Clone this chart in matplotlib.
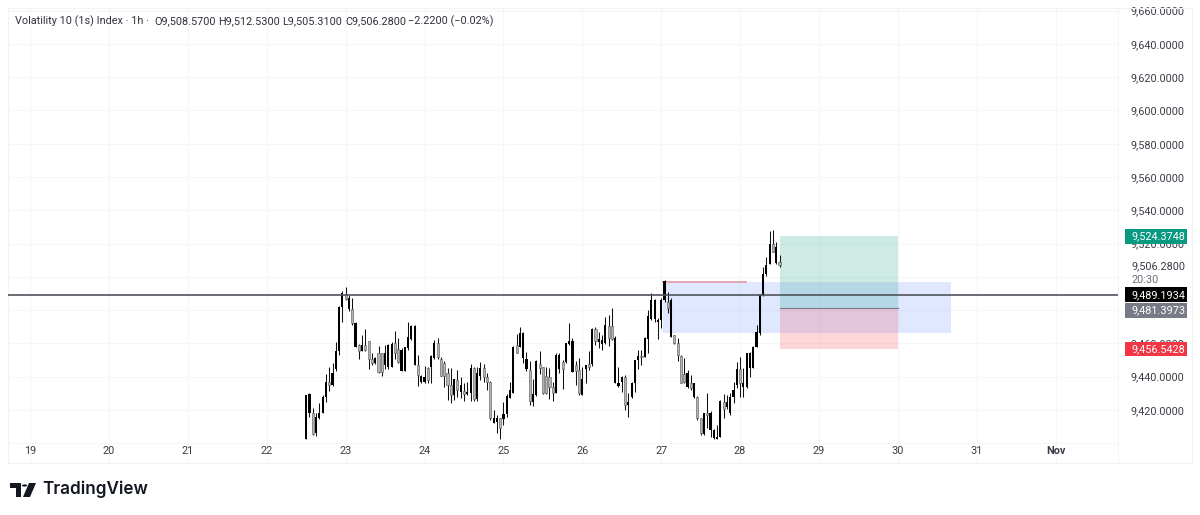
import numpy as np
import matplotlib
matplotlib.use('Agg')
import matplotlib.pyplot as plt
from matplotlib.patches import Rectangle, Polygon, Circle
from matplotlib.transforms import blended_transform_factory

plt.rcParams['font.family'] = ['Roboto', 'DejaVu Sans']

first_bar_day = 22.5
bars_per_day = 24
# candle prices below were read slightly low against the gridlines
read_offset = 0.6

opens = [9401.8,9417.4,9417.4,9405.4,9414.4,9417.4,9427.0,9436.2,9434.2,9443.8,
         9454.8,9481.0,9489.0,9479.8,9479.8,9457.4,9458.4,9455.0,9458.6,9461.0,
         9449.8,9447.4,9453.4,9453.4,9446.4,9445.0,9445.4,9459.8,9455.8,9443.0,
         9443.0,9456.4,9461.8,9446.4,9446.4,9436.4,9436.4,9444.4,9445.0,9450.4,
         9459.4,9449.8,9447.4,9441.4,9434.4,9428.4,9437.4,9430.4,9431.0,9429.0,
         9429.8,9444.4,9425.8,9439.8,9444.4,9439.0,9436.4,9411.8,9412.4,9414.4,
         9413.8,9417.0,9426.4,9429.8,9458.4,9457.4,9450.4,9443.8,9443.4,9424.4,
         9428.4,9447.0,9445.0,9439.8,9439.0,9433.0,9429.8,9443.8,9448.4,9448.4,
         9459.0,9442.4,9446.4,9443.4,9428.4,9443.8,9447.0,9447.0,9467.8,9460.4,
         9459.0,9459.8,9469.8,9469.8,9435.4,9433.8,9436.4,9439.4,9422.4,9427.0,
         9435.8,9449.4,9451.8,9451.4,9461.8,9473.8,9473.8,9472.4,9473.4,9485.4,
         9484.4,9463.4,9464.4,9459.4,9451.8,9441.0,9433.4,9435.4,9427.4,9427.4,
         9414.4,9405.0,9417.8,9407.4,9402.4,9402.0,9403.4,9424.4,9421.0,9417.4,
         9427.4,9434.4,9443.8,9433.0,9433.0,9444.4,9444.4,9457.4,9465.8,9488.6,
         9501.0,9507.4,9519.0,9507.8,9508.57]
highs = [9428.4,9429.4,9420.4,9417.4,9423.8,9428.4,9441.0,9445.0,9447.4,9460.4,
         9481.8,9491.0,9493.4,9488.4,9486.4,9472.4,9459.0,9464.4,9467.8,9461.0,
         9453.4,9451.0,9457.8,9453.8,9458.4,9459.0,9460.4,9467.0,9462.4,9456.4,
         9457.0,9472.2,9470.4,9470.4,9452.4,9440.4,9445.8,9445.0,9452.2,9461.4,
         9462.4,9451.0,9449.0,9444.4,9444.4,9437.8,9443.4,9439.0,9435.4,9436.4,
         9447.0,9445.4,9445.4,9448.4,9447.0,9441.4,9437.0,9419.4,9416.4,9414.4,
         9424.4,9429.0,9436.4,9457.8,9465.0,9469.4,9466.4,9454.4,9449.0,9437.8,
         9449.4,9455.0,9445.4,9445.0,9444.4,9436.4,9453.4,9453.8,9449.4,9459.8,
         9471.4,9462.4,9449.0,9450.4,9445.4,9446.4,9455.0,9468.4,9469.4,9466.4,
         9464.4,9475.4,9476.4,9480.4,9463.8,9445.4,9439.8,9440.4,9429.4,9436.4,
         9449.4,9455.4,9455.4,9463.4,9479.4,9489.8,9485.8,9474.4,9486.4,9497.4,
         9490.4,9486.4,9464.4,9462.4,9452.4,9450.4,9443.4,9440.4,9435.8,9427.8,
         9414.4,9417.8,9429.8,9419.0,9407.8,9410.4,9425.4,9429.0,9428.4,9429.8,
         9436.4,9448.4,9451.0,9444.4,9453.8,9454.4,9457.8,9470.4,9489.0,9505.4,
         9511.4,9527.0,9527.4,9520.4,9512.53]
lows = [9401.8,9415.0,9404.4,9403.8,9414.2,9417.4,9424.4,9431.0,9433.8,9443.0,
        9452.4,9472.4,9485.4,9479.0,9470.4,9457.0,9450.2,9454.6,9455.0,9443.8,
        9446.4,9447.0,9441.4,9439.8,9443.8,9444.2,9445.0,9449.8,9447.4,9442.8,
        9443.0,9455.4,9461.4,9446.4,9433.8,9435.4,9435.8,9435.8,9435.8,9449.8,
        9449.8,9439.8,9433.4,9425.4,9423.8,9425.4,9427.4,9426.4,9425.0,9428.4,
        9425.0,9425.0,9425.0,9437.4,9436.4,9431.4,9413.4,9411.4,9405.8,9401.8,
        9410.4,9415.4,9426.4,9429.4,9453.4,9457.0,9447.8,9443.0,9422.4,9421.8,
        9427.8,9441.0,9429.0,9429.0,9425.8,9425.0,9429.4,9441.4,9431.8,9447.8,
        9458.4,9442.4,9434.4,9428.4,9428.4,9435.8,9443.4,9445.8,9458.4,9456.4,
        9455.4,9459.0,9457.8,9461.4,9435.4,9433.0,9430.4,9419.4,9415.4,9426.4,
        9430.4,9443.8,9446.4,9451.0,9453.4,9473.4,9472.4,9461.8,9468.4,9484.4,
        9477.8,9463.4,9459.0,9449.0,9435.8,9435.8,9432.4,9431.4,9426.4,9413.4,
        9404.4,9404.4,9408.4,9403.4,9401.8,9401.8,9403.4,9414.4,9419.8,9416.4,
        9423.8,9432.4,9427.4,9427.4,9432.4,9439.4,9444.4,9457.4,9464.4,9487.8,
        9499.8,9507.0,9514.4,9507.4,9505.31]
closes = [9428.4,9429.0,9405.0,9415.4,9417.8,9427.0,9436.2,9434.4,9441.8,9454.8,
          9481.0,9489.8,9486.2,9486.4,9471.8,9471.8,9455.0,9458.6,9455.4,9449.8,
          9447.8,9450.6,9442.4,9442.4,9453.4,9458.4,9459.0,9453.8,9448.4,9455.4,
          9457.0,9463.4,9469.8,9469.8,9440.4,9439.8,9439.4,9437.4,9451.8,9459.8,
          9451.0,9439.8,9439.8,9434.4,9428.4,9437.8,9431.4,9434.4,9429.0,9430.2,
          9444.4,9425.8,9441.4,9444.4,9439.0,9436.4,9414.4,9414.4,9414.4,9408.4,
          9417.0,9427.8,9431.4,9457.0,9453.8,9465.8,9465.4,9449.8,9425.0,9429.0,
          9449.0,9444.4,9429.4,9429.8,9433.0,9429.8,9452.6,9452.6,9443.8,9459.4,
          9461.0,9461.0,9443.0,9429.4,9437.8,9446.4,9445.4,9467.8,9461.0,9461.8,
          9461.4,9470.4,9462.4,9461.8,9462.4,9435.4,9439.0,9422.4,9424.4,9435.4,
          9449.4,9451.8,9451.0,9462.6,9475.8,9485.4,9485.4,9473.4,9485.4,9497.0,
          9480.4,9485.4,9459.4,9452.4,9435.8,9436.4,9441.4,9432.4,9435.4,9414.4,
          9405.4,9417.4,9416.4,9417.4,9407.4,9403.4,9425.0,9419.8,9424.4,9427.4,
          9431.4,9443.8,9435.8,9435.8,9453.4,9453.8,9457.4,9466.4,9488.6,9501.4,
          9506.4,9519.0,9514.4,9517.4,9506.28]

day_ticks = [19, 20, 21, 22, 23, 24, 25, 26, 27, 28, 29, 30, 31, 32]
day_labels = ['19', '20', '21', '22', '23', '24', '25', '26', '27', '28', '29', '30', '31', 'Nov']
price_ticks = [9400, 9420, 9440, 9460, 9480, 9500, 9520, 9540, 9560, 9580, 9600, 9620, 9640, 9660]
price_labels = ['', '9,420.0000', '9,440.0000', '9,460.0000', '', '', '9,520.0000', '9,540.0000',
                '9,560.0000', '9,580.0000', '9,600.0000', '9,620.0000', '9,640.0000', '9,660.0000']

entry_price = 9481.3973
target_price = 9524.3748
stop_price = 9456.5428
last_price = 9489.1934
close_price = 9506.28
zone_low, zone_high = 9466.5, 9497.0

W, H = 1200, 515
FS = 7.8
fig = plt.figure(figsize=(W / 100, H / 100), dpi=100, facecolor='white')
ax = fig.add_axes([8 / W, (H - 463) / H, 1110 / W, 455 / H])
ax.set_xlim(18.72, 32.79)
ax.set_ylim(9388.1, 9661.6)

ax.set_xticks(day_ticks)
ax.set_xticklabels(day_labels)
ax.set_yticks(price_ticks)
ax.set_yticklabels(price_labels)
ax.yaxis.tick_right()
ax.tick_params(axis='both', length=0, labelsize=FS, labelcolor='#3a3d45')
ax.tick_params(axis='x', pad=-12.5)
ax.tick_params(axis='y', pad=9)
ax.xaxis.get_majorticklabels()[-1].set_fontweight('bold')
ax.grid(True, color='#f5f6f7', lw=0.8)
ax.set_axisbelow(True)
for s in ax.spines.values():
    s.set_color('#f3f4f5')
    s.set_linewidth(0.7)
ax.spines['bottom'].set_visible(False)
ax.add_patch(Rectangle((8 / W, (H - 463) / H), 1184 / W, 455 / H, transform=fig.transFigure,
                       fill=False, ec='#f1f2f3', lw=0.8, clip_on=False))

# position tool and zone
ax.add_patch(Rectangle((27.02, zone_low), 3.65, zone_high - zone_low, fc='#2962ff', alpha=0.14, ec='none', zorder=1))
ax.add_patch(Rectangle((28.5, entry_price), 1.5, target_price - entry_price, fc='#089981', alpha=0.2, ec='none', zorder=1))
ax.add_patch(Rectangle((28.5, stop_price), 1.5, entry_price - stop_price, fc='#f23645', alpha=0.2, ec='none', zorder=1))
ax.plot([28.5, 30], [entry_price, entry_price], color='#787b86', lw=0.8, zorder=2)
ax.plot([27.02, 28.08], [zone_high, zone_high], color='#e0a0a8', lw=1.3, zorder=2)

# candles
x = first_bar_day + np.arange(len(closes)) / bars_per_day
opens_a = np.array(opens) + read_offset
closes_a = np.array(closes) + read_offset
highs_a = np.array(highs) + read_offset
lows_a = np.array(lows) + read_offset
ax.vlines(x, lows_a, highs_a, color='#111111', lw=0.75, zorder=3)
up = closes_a >= opens_a
ax.bar(x[up], (closes_a - opens_a)[up], bottom=opens_a[up], width=0.027, color='black', lw=0, zorder=4)
ax.bar(x[~up], (closes_a - opens_a)[~up], bottom=opens_a[~up], width=0.027, color='#b4b4b4',
       edgecolor='#555555', lw=0.4, zorder=4)

ax.axhline(last_price, color='#50535e', lw=1.2, zorder=5)

# price scale labels
tr = blended_transform_factory(fig.transFigure, ax.transData)
for price, label, bg, fg in [(target_price, '9,524.3748', '#089981', 'white'),
                             (last_price, '9,489.1934', '#000000', 'white'),
                             (9479.8, '9,481.3973', '#787b86', 'white'),
                             (stop_price, '9,456.5428', '#f23645', 'white')]:
    ax.add_patch(Rectangle((1125 / W, price - 4.4), 62 / W, 8.8, transform=tr, fc=bg, ec='none',
                           clip_on=False, zorder=7))
    ax.text(1131 / W, price, label, transform=tr, color=fg, fontsize=FS, va='center', ha='left',
            clip_on=False, zorder=8)
ax.text(1131 / W, close_price, '9,506.2800', transform=tr, color='#3a3d45', fontsize=FS, va='center', clip_on=False)
ax.text(1131 / W, 9498.2, '20:30', transform=tr, color='#6a6d78', fontsize=FS, va='center', clip_on=False)

# header
for px, s in [(15, 'Volatility 10 (1s) Index · 1h ·'), (154, 'O9,508.5700'), (218, 'H9,512.5300'),
              (282, 'L9,505.3100'), (345, 'C9,506.2800'), (408, '−2.2200 (−0.02%)')]:
    fig.text(px / W, 1 - 21 / H, s, fontsize=FS, color='#2f323a', va='center', ha='left')

# logo
def logo_poly(pts):
    fig.add_artist(Polygon([(a / W, 1 - b / H) for a, b in pts], transform=fig.transFigure, fc='#131722', ec='none'))

logo_poly([(10, 483), (21, 483), (21, 497), (15.5, 497), (15.5, 488), (10, 488)])
logo_poly([(29, 483), (36, 483), (30, 497), (23, 497)])
fig.add_artist(Circle((24.5 / W, 1 - 485.5 / H), 2.6 / W, transform=fig.transFigure, fc='#131722', ec='none'))
fig.text(42 / W, 1 - 489.5 / H, 'TradingView', fontsize=12.3, fontweight='semibold', family=['Inter', 'DejaVu Sans'],
         color='#131722', va='center', ha='left')

fig.savefig('out.png', dpi=100, facecolor='white')
